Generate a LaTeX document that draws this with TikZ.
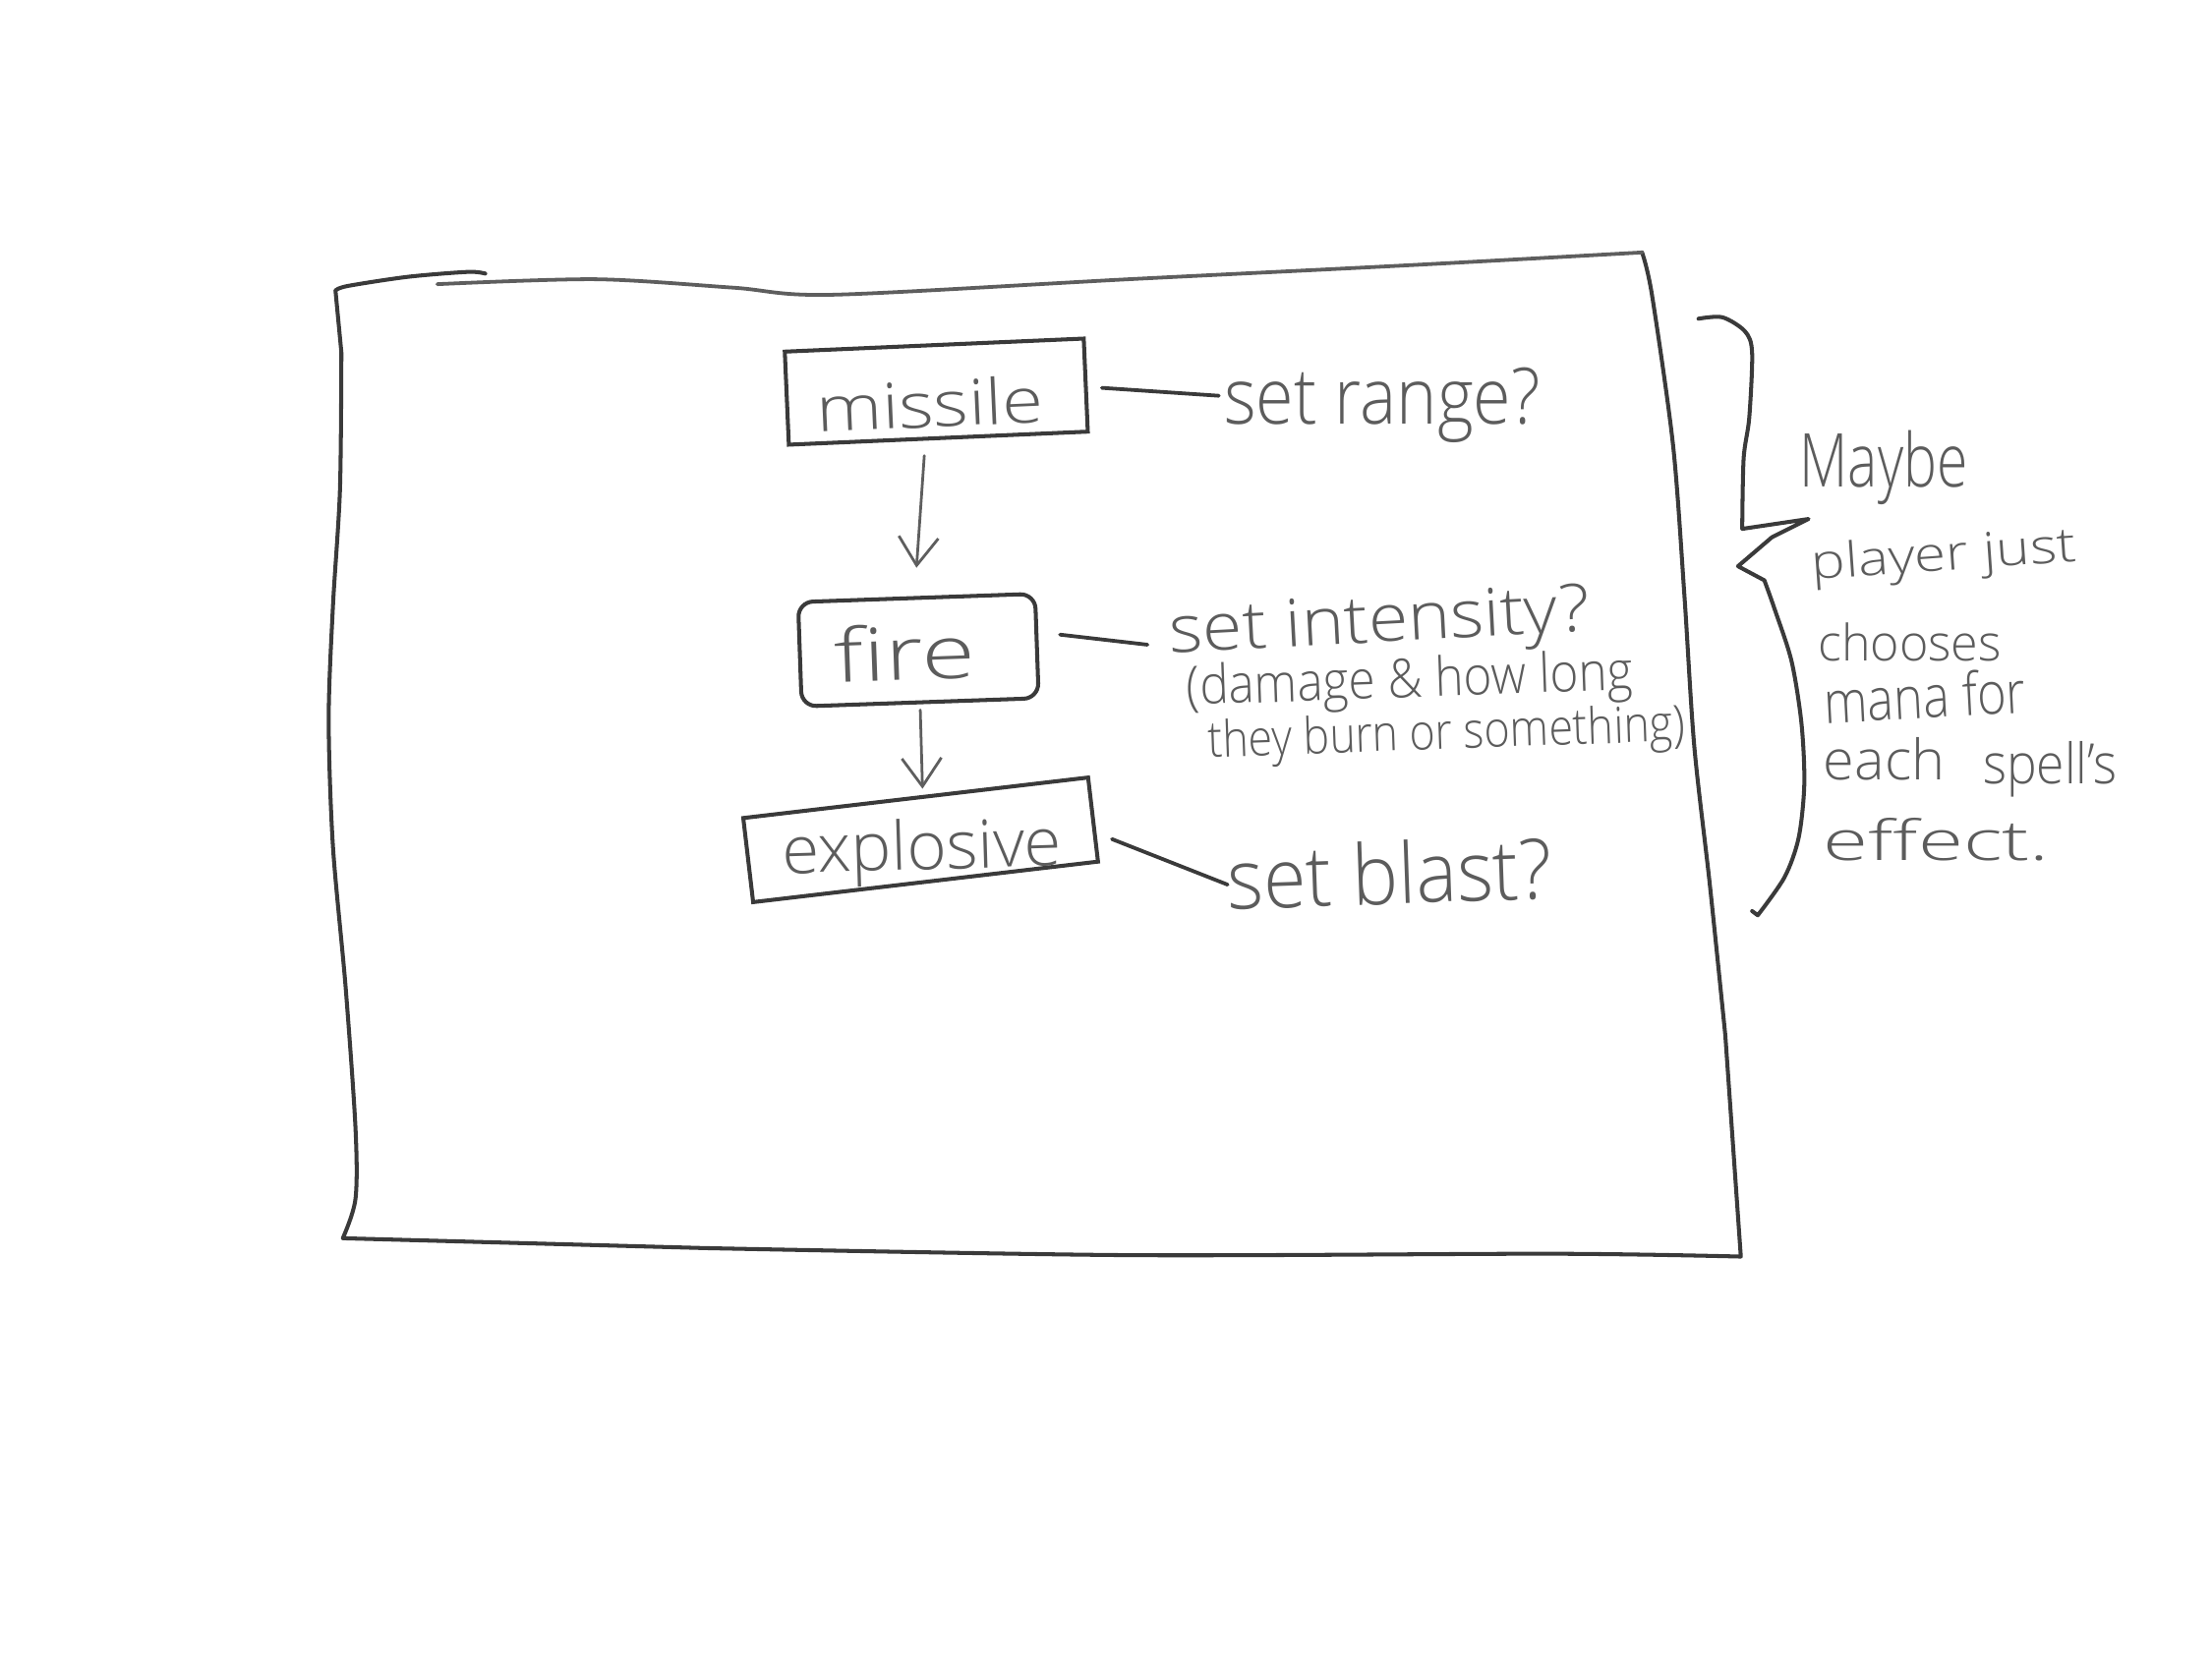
\documentclass[tikz,border=0pt]{standalone}
\usepackage{fontspec}
\IfFontExistsTF{Open Sans Light}{\setmainfont{Open Sans Light}}{\setmainfont{Open Sans}}
\usepackage{graphicx}
\usetikzlibrary{arrows.meta,calc}
\definecolor{ink}{HTML}{3A3A3A}
\definecolor{inklight}{HTML}{5E5E5E}
\definecolor{pencil}{HTML}{5C5C5C}
\newcommand{\fitt}[3]{\resizebox{#1cm}{#2cm}{#3}}
\begin{document}
\begin{tikzpicture}[x=0.01cm, y=-0.01cm,
  box/.style={draw=ink, line width=0.8pt, inner sep=0pt, text=pencil},
  lbl/.style={anchor=base west, inner sep=0pt, text=pencil},
  conn/.style={draw=ink, line width=0.75pt, line cap=round},
  arr/.style={draw=inklight, line width=0.55pt, line cap=round, -{Straight Barb[length=2mm,width=2.8mm,line width=0.55pt]}},
  frame/.style={draw=ink, line width=0.8pt, line cap=round, line join=round},
  frametop/.style={draw=inklight, line width=0.75pt, line cap=round}]
\fill[white] (0,0) rectangle (1568,1176);
\useasboundingbox (0,0) rectangle (1568,1176);

% outer frame
\draw[frame] plot[smooth] coordinates {(344,194) (331.7,192.8) (289,196.3) (246.4,202.8) (237.8,206)}
  -- plot[smooth] coordinates {(242,250) (241,347) (236,430) (233,510) (236,600) (245,700) (252,800) (252,850) (243,878)}
  -- plot[smooth] coordinates {(500,885) (800,890) (1100,889) (1234,891)}
  -- plot[smooth] coordinates {(1223,734) (1212,627) (1201,529) (1194,422) (1186,316) (1171,209) (1164,179)};
\draw[frametop] plot[smooth] coordinates {(310,201.5) (422,198) (520,204) (590,209) (800,198) (1000,188) (1164,179)};

% boxes
\node[box, rotate=2.5, minimum width=2.12cm, minimum height=0.66cm, text height=0.5cm, text depth=0cm] (missile) at (663.7,277.7) {\fitt{1.61}{0.34}{missile}\kern0.1cm};
\node[box, rotate=2, rounded corners=3pt, minimum width=1.68cm, minimum height=0.74cm, text height=0.42cm, text depth=0cm] (fire) at (651,461) {\fitt{1.0}{0.40}{fire}\kern0.2cm};
\node[box, rotate=6.7, minimum width=2.46cm, minimum height=0.60cm, text height=0.36cm, text depth=0.11cm] (explosive) at (652.6,595.5) {\rotatebox{-5}{\fitt{1.98}{0.36}{explosive}}};

% labels
\node[lbl] (setrange) at (867,301) {\fitt{2.24}{0.40}{set range?}};
\node[lbl, rotate=3] (intensity) at (829,463) {\fitt{2.98}{0.34}{set intensity?}};
\node[lbl, rotate=2] (damage) at (841,500) {\fitt{3.16}{0.29}{(damage \& how long}};
\node[lbl, rotate=2] (burn) at (856,537) {\fitt{3.38}{0.27}{they burn or something)}};
\node[lbl, rotate=2] (blast) at (870,645) {\fitt{2.30}{0.45}{set blast?}};

% right notes
\node[lbl] (maybe) at (1275,345) {\fitt{1.19}{0.40}{Maybe}};
\node[lbl, rotate=4] (player) at (1284,411) {\fitt{1.88}{0.26}{player just}};
\node[lbl] (chooses) at (1288,469) {\fitt{1.30}{0.27}{chooses}};
\node[lbl, rotate=3] (mana) at (1293,513) {\fitt{1.43}{0.32}{mana for}};
\node[lbl] (each) at (1292,553) {\fitt{0.86}{0.30}{each}};
\node[lbl] (spells) at (1405,556) {\fitt{0.95}{0.30}{spell's}};
\node[lbl] (effect) at (1292,610) {\fitt{1.60}{0.30}{effect.}};

% connectors
\draw[conn] ([xshift=0.1cm,yshift=-0.02cm]missile.east) -- ([xshift=-0.03cm,yshift=0.07cm]setrange.west);
\draw[conn] ([xshift=0.15cm,yshift=0.08cm]fire.east) -- ([xshift=-0.15cm,yshift=-0.055cm]intensity.west);
\draw[conn] ([xshift=0.12cm,yshift=-0.14cm]explosive.east) -- ([xshift=0.01cm,yshift=-0.045cm]blast.west);
\draw[arr] ([xshift=-0.1cm,yshift=-0.11cm]missile.south) -- ([yshift=0.2cm]fire.north);
\draw[arr] ([yshift=-0.04cm]fire.south) -- ([xshift=0.05cm,yshift=0.05cm]explosive.north);

% brace
\draw[frame] plot[smooth] coordinates {(1204,226) (1221,225) (1237,235) (1242,250) (1240,296) (1236,325) (1235,375)}
  -- (1282,368) -- (1256,381) -- (1232,401.5)
  -- plot[smooth] coordinates {(1250.7,411.5) (1258,432) (1270,469) (1277,513) (1279,556) (1275,594) (1265,622) (1246,649)} -- (1242,646);
\end{tikzpicture}
\end{document}
